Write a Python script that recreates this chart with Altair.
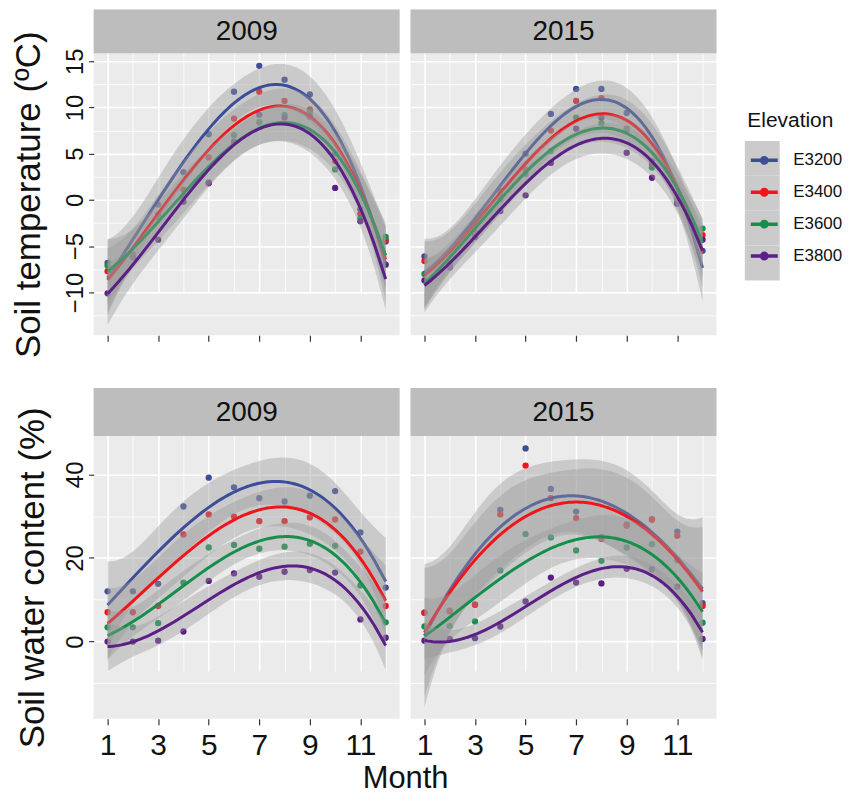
import altair as alt
import numpy as np
import pandas as pd

months = list(range(1, 13))
elevations = ["E3200", "E3400", "E3600", "E3800"]
years = ["2009", "2015"]
colors = ["#3D4D9A", "#F0151B", "#168F4C", "#5C1F87"]

# Soil temperature (degC)
t09_E3200 = [-6.8, -5.9, -0.5, 3.0, 7.1, 11.7, 14.5, 13.0, 11.4, 5.0, -1.0, -4.5]
t09_E3400 = [-7.7, -6.0, -1.6, 1.1, 4.6, 8.8, 11.7, 10.7, 9.8, 4.2, -1.5, -4.3]
t09_E3600 = [-7.1, -6.1, -1.9, 0.4, 1.9, 7.0, 8.4, 9.2, 9.5, 3.3, -2.0, -4.0]
t09_E3800 = [-10.1, -6.2, -4.3, -0.2, 1.8, 6.3, 9.2, 8.9, 9.0, 1.3, -2.3, -7.0]
t15_E3200 = [-6.1, -6.8, -3.5, 1.0, 5.0, 9.3, 12.0, 12.0, 9.4, 4.2, 0.0, -5.5]
t15_E3400 = [-6.6, -7.0, -3.7, 0.5, 3.3, 7.5, 10.7, 11.0, 7.7, 3.8, -0.2, -3.8]
t15_E3600 = [-8.0, -7.2, -3.9, 0.1, 2.8, 5.3, 8.9, 8.3, 7.5, 3.5, -0.3, -3.1]
t15_E3800 = [-8.7, -7.3, -4.0, -1.2, 0.5, 4.0, 7.7, 8.9, 5.1, 2.4, -0.4, -4.3]

# Soil water content (%)
w09_E3200 = [12.0, 12.0, 13.8, 32.3, 39.2, 36.9, 34.3, 33.5, 34.9, 36.0, 26.1, 12.9]
w09_E3400 = [7.0, 7.0, 8.5, 25.6, 30.4, 29.9, 28.8, 28.8, 29.7, 29.2, 21.5, 8.5]
w09_E3600 = [3.4, 3.4, 4.4, 14.1, 22.5, 23.1, 22.2, 22.7, 23.4, 22.9, 13.4, 4.6]
w09_E3800 = [0.0, 0.0, 0.2, 2.4, 14.5, 16.3, 15.5, 16.7, 17.1, 16.5, 5.3, 0.9]
w15_E3200 = [6.9, 7.4, 8.8, 31.5, 46.2, 36.5, 31.1, 25.0, 28.0, 29.2, 26.3, 9.2]
w15_E3400 = [6.9, 7.2, 8.8, 30.4, 42.1, 34.3, 29.5, 24.5, 27.7, 29.2, 25.3, 8.5]
w15_E3600 = [3.6, 3.7, 4.8, 17.0, 25.7, 24.9, 21.8, 19.3, 22.5, 23.3, 19.5, 4.5]
w15_E3800 = [0.2, 0.6, 0.8, 3.6, 9.6, 15.3, 14.1, 13.9, 17.4, 17.3, 13.1, 0.6]

series = {
    ("temp", "2009"): [t09_E3200, t09_E3400, t09_E3600, t09_E3800],
    ("temp", "2015"): [t15_E3200, t15_E3400, t15_E3600, t15_E3800],
    ("water", "2009"): [w09_E3200, w09_E3400, w09_E3600, w09_E3800],
    ("water", "2015"): [w15_E3200, w15_E3400, w15_E3600, w15_E3800],
}

rows = []
for (var, yr), lists in series.items():
    for elev, vals in zip(elevations, lists):
        for m, v in zip(months, vals):
            rows.append({"var": var, "year": yr, "elev": elev, "month": m, "value": v})
df = pd.DataFrame(rows)


def ci_band(x, y):
    x = np.asarray(x, float)
    y = np.asarray(y, float)
    X = np.vander(x, 4)
    inv = np.linalg.inv(X.T @ X)
    beta = inv @ X.T @ y
    resid = y - X @ beta
    s2 = resid @ resid / (len(x) - 4)
    xs = np.linspace(1, 12, 89)
    G = np.vander(xs, 4)
    fit = G @ beta
    se = np.sqrt(np.einsum("ij,jk,ik->i", G, inv, G) * s2)
    t = 2.306
    return xs, fit - t * se, fit + t * se


brows = []
for (var, yr), lists in series.items():
    for elev, vals in zip(elevations, lists):
        xs, lo, hi = ci_band(months, vals)
        for a, b, c in zip(xs, lo, hi):
            brows.append({"var": var, "year": yr, "elev": elev, "month": a, "lo": b, "hi": c})
bdf = pd.DataFrame(brows)

FONT = "Liberation Sans"
INK = "#111111"
ydom = {"temp": [-14.63, 15.86], "water": [-18.5, 49.2]}
yvals = {"temp": [-12.5, -10, -7.5, -5, -2.5, 0, 2.5, 5, 7.5, 10, 12.5, 15],
         "water": [-10, 0, 10, 20, 30, 40]}
ymajor = {"temp": "datum.value % 5 == 0", "water": "datum.value % 20 == 0"}
ytitle = {"temp": "Soil temperature (\u00baC)", "water": "Soil water content (%)"}
ypad = {"temp": 17.5, "water": 13.5}
pw = {"temp": 307, "water": 307}

LX, LY = 656, 101
legend = alt.Legend(
    orient="none", legendX=LX, legendY=LY, title="Elevation", zindex=1,
    titleFont=FONT, titleFontSize=21, titleFontWeight="normal", titleColor=INK,
    titlePadding=12.5, labelFont=FONT, labelFontSize=17, labelColor=INK,
    symbolType="M-0.9,0L0.9,0M0.18,0A0.18,0.18 0 1 1 -0.18,0A0.18,0.18 0 1 1 0.18,0Z",
    symbolSize=900, symbolStrokeWidth=3.5, rowPadding=5, labelOffset=12, padding=0,
)
color_enc = alt.Color("elev:N", scale=alt.Scale(domain=elevations, range=colors), legend=legend)

# grey key backgrounds behind the legend symbols
key_names = [e + " key" for e in elevations]
key_legend = alt.Legend(
    orient="none", legendX=LX - 2.5, legendY=LY + 21 + 12.5 - 2.5, title=None, zindex=0,
    labelExpr="''", labelFontSize=1, labelOffset=0,
    symbolType="M-1,-1L1,-1L1,1L-1,1Z", symbolSize=1225, symbolStrokeWidth=0,
    symbolOpacity=1, symbolFillColor="#CBCBCB", symbolStrokeColor="#CBCBCB",
    rowPadding=0, padding=0,
)


def panel(var, yr, left, bottom):
    W = pw[var]
    sh = 44 if var == "temp" else 48
    ph = 283 if var == "temp" else 284
    H = sh + ph
    sub = df[(df["var"] == var) & (df["year"] == yr)]
    bsub = bdf[(bdf["var"] == var) & (bdf["year"] == yr)]

    xaxis = alt.Axis(
        values=months, labels=bottom, labelExpr="datum.value % 2 == 0 ? '' : datum.label",
        labelFont=FONT, labelFontSize=30, labelColor=INK, labelPadding=6,
        labelOverlap=False, labelFlush=False,
        ticks=True, tickSize=6, tickWidth=1.2, tickColor="#333333",
        tickOpacity={"condition": {"test": "datum.value % 2 == 0", "value": 0}, "value": 1},
        domain=False, grid=True, gridColor="white",
        gridWidth={"condition": {"test": "datum.value % 2 == 0", "value": 0.8}, "value": 1.6},
        title="Month" if (bottom and left) else None,
        titleFont=FONT, titleFontSize=31, titleFontWeight="normal", titleColor=INK,
        titleX=W + 5.5, titleY=45, titleAlign="center", titleBaseline="top",
    )
    if left:
        yaxis = alt.Axis(
            values=yvals[var], labelExpr="(" + ymajor[var] + ") ? datum.label : ''",
            labelAngle=270, labelAlign="center", labelBaseline="bottom",
            labelFont=FONT, labelFontSize=24, labelColor=INK, labelPadding=1,
            labelOverlap=False, labelFlush=False,
            tickSize=5, tickWidth=1.2, tickColor="#333333",
            tickOpacity={"condition": {"test": ymajor[var], "value": 1}, "value": 0},
            minExtent=30, maxExtent=30, domain=False, grid=True, gridColor="white",
            gridWidth={"condition": {"test": ymajor[var], "value": 1.6}, "value": 0.8},
            title=ytitle[var], titleFont=FONT, titleFontSize=35, titleFontWeight="normal",
            titleColor=INK, titlePadding=ypad[var],
        )
    else:
        yaxis = alt.Axis(
            values=yvals[var], labels=False, ticks=False, domain=False, title=None,
            grid=True, gridColor="white",
            gridWidth={"condition": {"test": ymajor[var], "value": 1.6}, "value": 0.8},
        )
    xscale = alt.Scale(domain=[0.45, 12.55], nice=False, zero=False)
    yscale = alt.Scale(domain=ydom[var], range=[H, sh], nice=False, zero=False)

    def X(f):
        return alt.X(f + ":Q", scale=xscale, axis=xaxis)

    def Y(f):
        return alt.Y(f + ":Q", scale=yscale, axis=yaxis)

    layers = [
        alt.Chart(sub).mark_circle(size=40, opacity=1, clip=True).encode(
            x=X("month"), y=Y("value"), color=color_enc)
    ]
    for g in elevations:
        layers.append(
            alt.Chart(bsub[bsub["elev"] == g]).mark_area(color="#999999", opacity=0.4, clip=True).encode(
                x=X("month"), y=Y("lo"), y2="hi")
        )
        layers.append(
            alt.Chart(sub[sub["elev"] == g])
            .transform_regression("month", "value", method="poly", order=3, groupby=["elev"])
            .mark_line(strokeWidth=3, clip=True).encode(x=X("month"), y=Y("value"), color=color_enc)
        )
    if left and var == "temp":
        layers.append(
            alt.Chart(pd.DataFrame({"key": key_names}))
            .mark_point(filled=True, color="#CBCBCB", opacity=1, size=4)
            .encode(
                x=alt.value(4), y=alt.value(4),
                shape=alt.Shape("key:N", scale=alt.Scale(domain=key_names, range=["square"] * 4),
                                legend=key_legend))
        )
    strip = pd.DataFrame({"year": [yr]})
    layers.append(
        alt.Chart(strip).mark_rect(color="#BDBDBD").encode(
            x=alt.value(0), x2=alt.value(W), y=alt.value(0), y2=alt.value(sh))
    )
    layers.append(
        alt.Chart(strip).mark_text(font=FONT, fontSize=28, color=INK, baseline="middle").encode(
            x=alt.value(W / 2), y=alt.value(sh / 2 + 1), text="year:N")
    )
    return alt.layer(*layers).properties(width=W, height=H)


top = alt.hconcat(panel("temp", "2009", True, False), panel("temp", "2015", False, False),
                  spacing=11, bounds="flush")
bottom = alt.hconcat(panel("water", "2009", True, True), panel("water", "2015", False, True),
                     spacing=11, bounds="flush")

chart = (
    alt.vconcat(top, bottom, spacing=30)
    .resolve_scale(color="shared")
    .properties(padding={"left": 3, "top": 0, "right": 0, "bottom": 0})
    .configure(font=FONT)
    .configure_view(fill="#EBEBEB", stroke=None)
)

chart.save("out.html", embed_options={"renderer": "svg", "actions": False})
